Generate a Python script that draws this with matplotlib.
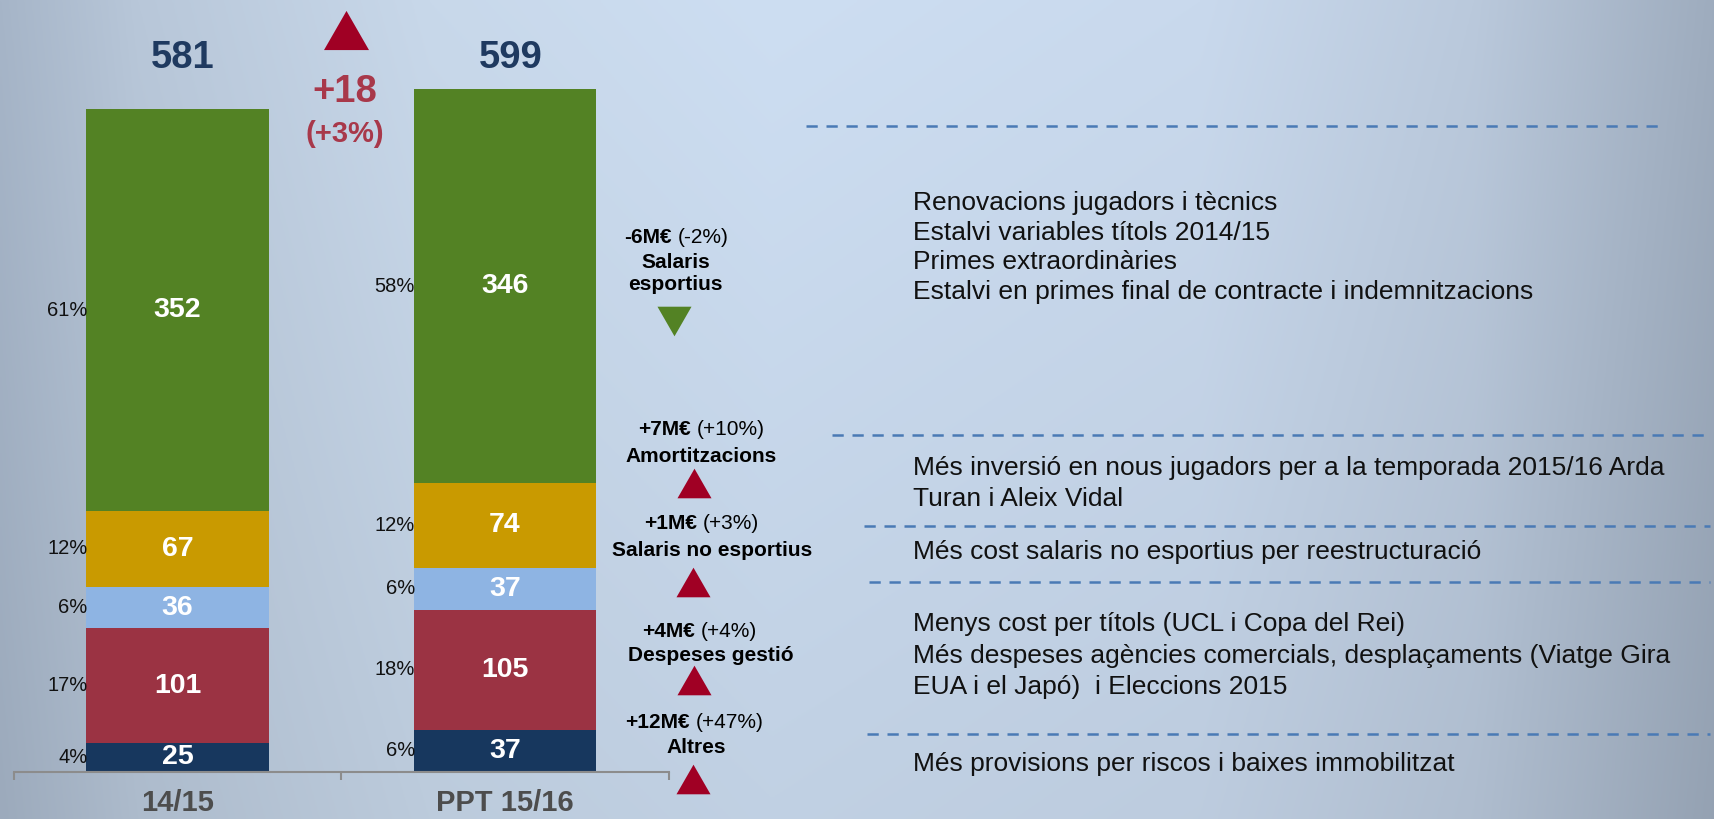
import numpy as np
import matplotlib.pyplot as plt

plt.rcParams['font.family'] = ['Liberation Sans', 'DejaVu Sans']

# --- data ---
categories = ['14/15', 'PPT 15/16']
segments = ['Altres', 'Despeses gestió', 'Salaris no esportius', 'Amortitzacions', 'Salaris\nesportius']
values_1415 = [25, 101, 36, 67, 352]
values_1516 = [37, 105, 37, 74, 346]
share_1415 = ['4%', '17%', '6%', '12%', '61%']
share_1516 = ['6%', '18%', '6%', '12%', '58%']
change_pct = ['(+47%)', '(+4%)', '(+3%)', '(+10%)', '(-2%)']
totals = [581, 599]
notes = [
    ['Més provisions per riscos i baixes immobilitzat'],
    ['Menys cost per títols (UCL i Copa del Rei)',
     'Més despeses agències comercials, desplaçaments (Viatge Gira',
     'EUA i el Japó)  i Eleccions 2015'],
    ['Més cost salaris no esportius per reestructuració'],
    ['Més inversió en nous jugadors per a la temporada 2015/16 Arda',
     'Turan i Aleix Vidal'],
    ['Renovacions jugadors i tècnics', 'Estalvi variables títols 2014/15',
     'Primes extraordinàries', 'Estalvi en primes final de contracte i indemnitzacions'],
]

# --- styling / layout (pixels of the 1715x819 canvas) ---
seg_colors = ['#17375E', '#9B3343', '#8EB4E3', '#C99A00', '#538224']
W, H = 1715, 819
X0, DX = 177.5, 327.5     # px of first bar centre, px between bars
Y0, DY = 771.7, 1.14      # px of bar base, px per M€
bar_w = 0.556
ann_line1 = [(694.5, 728.3), (699.7, 636.7), (701.7, 529), (701.2, 435), (676, 242.7)]
ann_name = [(695.8, 752.7), (711, 660.7), (712.3, 555.7), (700.7, 462.3), (675.5, 268.3)]
ann_tri = [(693, 778.7), (694, 680.2), (693, 581.7), (694, 483), (674.5, 320.5)]
note_first = [771, 631, 559, 475, 210]
note_step = [30, 31.5, 30, 31, 29.7]
dash_y = [734, 582, 526, 435, 126]
dash_x0 = [867, 869, 864, 832, 806]
dash_x1 = [1710, 1710, 1710, 1710, 1663]

up_tri = [(-1, -0.87), (1, -0.87), (0, 0.87)]
down_tri = [(-1, 0.87), (1, 0.87), (0, -0.87)]

fig = plt.figure(figsize=(W / 100, H / 100), dpi=100)

# background gradient
bg = fig.add_axes([0, 0, 1, 1], zorder=0)
xs = np.linspace(0, 1, 600)
stops = [0, 0.08, 0.25, 0.45, 0.7, 0.86, 1]
cols = np.array([[166, 181, 200], [184, 199, 217], [200, 216, 234], [205, 222, 242],
                 [201, 217, 237], [186, 201, 220], [158, 172, 190]]) / 255
row = np.stack([np.interp(xs, stops, cols[:, k]) for k in range(3)], axis=1)
shade = np.linspace(1.0, 0.94, 300)[:, None, None]
bg.imshow(row[None, :, :] * shade, aspect='auto', extent=[0, 1, 0, 1])
bg.axis('off')

# bars
ax = fig.add_axes([0, 0, 1, 1], zorder=1)
ax.set_facecolor('none')
ax.set_xlim(-X0 / DX, (W - X0) / DX)
ax.set_ylim(-(H - Y0) / DY, Y0 / DY)
ax.axis('off')

for i, (vals, shares) in enumerate([(values_1415, share_1415), (values_1516, share_1516)]):
    bottoms = np.concatenate([[0], np.cumsum(vals)[:-1]])
    ax.bar(i, vals, bar_w, bottom=bottoms, color=seg_colors, linewidth=0)
    for v, b, s in zip(vals, bottoms, shares):
        ax.text(i, b + v / 2, str(v), ha='center', va='center', color='white',
                fontsize=20.5, fontweight='bold')
        ax.text(i - bar_w / 2 + 0.003, b + v / 2, s, ha='right', va='center',
                fontsize=14.5, color='#111111')
    ax.text(i + 0.017, 617, str(totals[i]), ha='center', va='baseline',
            fontsize=27.5, fontweight='bold', color='#1F3A60')
    ax.text(i, -34.5, categories[i], ha='center', va='baseline',
            fontsize=21, fontweight='bold', color='#4D4D4D')

ax.plot([-0.5, 1.5], [-0.7, -0.7], color='#8C8C8C', lw=1.5)
ax.vlines([-0.5, 0.5, 1.5], -7.6, -0.7, color='#8C8C8C', lw=1.5)

# annotations in pixel space
ov = fig.add_axes([0, 0, 1, 1], zorder=2)
ov.set_facecolor('none')
ov.set_xlim(0, W)
ov.set_ylim(H, 0)
ov.axis('off')
renderer = fig.canvas.get_renderer()


def mixed(cx, y, bold, regular, size):
    t1 = ov.text(0, y, bold, fontsize=size, fontweight='bold', va='baseline', ha='left')
    t2 = ov.text(0, y, regular, fontsize=size, va='baseline', ha='left')
    w1 = t1.get_window_extent(renderer).width
    w2 = t2.get_window_extent(renderer).width
    gap = 0.278 * size * 100 / 72
    left = cx - (w1 + gap + w2) / 2
    t1.set_x(left)
    t2.set_x(left + w1 + gap)


total_change = totals[1] - totals[0]
ov.plot(346.5, 29.5, marker=up_tri if total_change > 0 else down_tri, ms=32.4,
        color='#A00024', mew=0)
ov.text(344.5, 101.5, f'{total_change:+d}', ha='center', va='baseline', fontsize=27.5,
        fontweight='bold', color='#A8384A')
ov.text(345, 141.5, f'({100 * total_change / totals[0]:+.0f}%)', ha='center', va='baseline',
        fontsize=21, fontweight='bold', color='#A8384A')

for k in range(len(segments)):
    d = values_1516[k] - values_1415[k]
    cx, y = ann_line1[k]
    mixed(cx, y, f'{d:+d}M€', change_pct[k], 15)
    nx, ny = ann_name[k]
    for j, line in enumerate(segments[k].split('\n')):
        ov.text(nx, ny + 21.7 * j, line, ha='center', va='baseline', fontsize=15,
                fontweight='bold')
    tx, ty = ann_tri[k]
    ov.plot(tx, ty, marker=up_tri if d > 0 else down_tri, ms=24.5, mew=0,
            color='#A00024' if d > 0 else '#538224')
    for j, line in enumerate(notes[k]):
        ov.text(913, note_first[k] + note_step[k] * j, line, ha='left', va='baseline',
                fontsize=19, color='#111111')
    ov.plot([dash_x0[k], dash_x1[k]], [dash_y[k], dash_y[k]], color='#4A7AB5', lw=1.8,
            dashes=(4.5, 3.5))

fig.savefig('out.png', dpi=100)
